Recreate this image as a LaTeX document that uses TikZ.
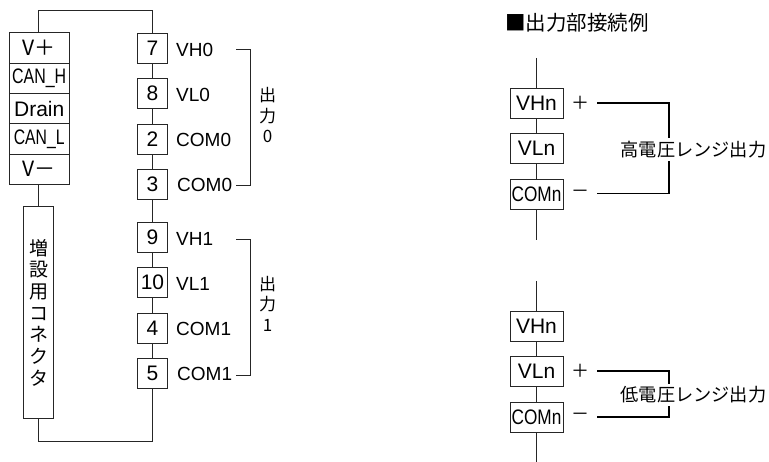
\documentclass[tikz,border=0pt]{standalone}
\usepackage{fontspec}
\usepackage{graphicx}
\setmainfont{Liberation Sans}
\newfontfamily\cjk{Noto Sans CJK JP}
\newcommand{\fs}[1]{\fontsize{#1}{#1}\selectfont}
\newcommand{\nar}[2]{\scalebox{#1}[1]{#2}}
\tikzset{
  wire/.style={draw=black!85,line width=0.9pt},
  thick wire/.style={draw=black,line width=1.2pt},
  cell/.style={draw=black!85,line width=0.9pt,fill=white,inner sep=0pt,minimum width=60.5pt,minimum height=30.3pt,font=\fs{21}},
  term/.style={draw=black!85,line width=0.9pt,fill=white,inner sep=0pt,minimum width=30pt,minimum height=30pt,font=\fs{21}},
  rbox/.style={draw=black!85,line width=0.9pt,fill=white,inner sep=0pt,minimum width=53pt,minimum height=30pt,font=\fs{21}},
  pin/.style={anchor=west,inner sep=0pt,font=\fs{19}},
  stack/.style={align=center,inner sep=0pt,font=\cjk\fontsize{17}{20.5}\selectfont},
  sign/.style={inner sep=0pt,font=\cjk\fs{18}},
  jp/.style={inner xsep=0pt,inner ysep=2.5pt,font=\cjk\fs{18.2},fill=white}
}
\begin{document}
\begin{tikzpicture}[x=1pt,y=-1pt]
\useasboundingbox (0,0) rectangle (769,462);
% connector block
\node[cell] (vp) at (39.2,48) {\cjk V＋};
\node[cell] (canh) at (39.2,78.3) {\nar{0.76}{CAN\_H}};
\node[cell] (drain) at (39.2,108.6) {Drain};
\node[cell] (canl) at (39.2,138.9) {\nar{0.75}{CAN\_L}};
\node[cell] (vm) at (39.2,169.2) {\cjk V－};
\node[draw=black!85,line width=0.9pt,fill=white,inner sep=0pt,minimum width=30pt,minimum height=211.5pt,align=center,font=\cjk\fontsize{19}{21.7}\selectfont] (ext) at (38.5,312.7)
  {増\\設\\用\\コ\\ネ\\ク\\タ};
% terminals
\node[term] (t7) at (152.5,48) {7};
\node[term] (t8) at (152.5,93.5) {8};
\node[term] (t2) at (152.5,139) {2};
\node[term] (t3) at (152.5,184) {3};
\node[term] (t9) at (152.5,237) {9};
\node[term] (t10) at (152.5,282.5) {10};
\node[term] (t4) at (152.5,328) {4};
\node[term] (t5) at (152.5,373) {5};
% pin labels
\node[pin] (l7) at (176,50) {VH0};
\node[pin] (l8) at (176,95) {VL0};
\node[pin] (l2) at (176,140) {COM0};
\node[pin] (l3) at (177,185) {COM0};
\node[pin] (l9) at (176,239) {VH1};
\node[pin] (l10) at (176,284) {VL1};
\node[pin] (l4) at (176,329) {COM1};
\node[pin] (l5) at (177,374) {COM1};
% wires
\coordinate (ta) at (38.5,10.5);
\coordinate (tb) at (152.5,10.5);
\coordinate (ba) at (38.5,441.5);
\coordinate (bb) at (152.5,441.5);
\draw[wire] (ta |- vp.north) -- (ta) -- (tb) -- (t7.north);
\draw[wire] (t7) -- (t8);
\draw[wire] (t8) -- (t2);
\draw[wire] (t2) -- (t3);
\draw[wire] (t3) -- (t9);
\draw[wire] (t9) -- (t10);
\draw[wire] (t10) -- (t4);
\draw[wire] (t4) -- (t5);
\draw[wire] (vm.south -| ext) -- (ext.north);
\draw[wire] (ext.south) -- (ba) -- (bb) -- (t5.south);
% brackets
\coordinate (b0a) at (236,49.5);
\coordinate (b0b) at (250,49.5);
\coordinate (b0c) at (250,185.5);
\coordinate (b0d) at (236,185.5);
\coordinate (b1a) at (236,239);
\coordinate (b1b) at (250,239);
\coordinate (b1c) at (250,375);
\coordinate (b1d) at (236,375);
\draw[wire] (b0a) -- (b0b) -- (b0c) -- (b0d);
\draw[wire] (b1a) -- (b1b) -- (b1c) -- (b1d);
\node[stack] (o0) at (267.5,115.5) {出\\力\\0};
\node[stack] (o1) at (267.5,303.5) {出\\力\\1};
% title
\node[anchor=west,inner sep=0pt,font=\cjk\fs{20.5}] (title) at (505,22.5) {■出力部接続例};
% high range
\coordinate (h0) at (536,58);
\coordinate (h1) at (536,240);
\draw[wire] (h0) -- (h1);
\node[rbox] (hv) at (536.5,103) {VHn};
\node[rbox] (hl) at (536.5,148.5) {VLn};
\node[rbox] (hc) at (536.5,194) {\nar{0.82}{COMn}};
\node[sign] (hp) at (580,103) {＋};
\node[sign] (hm) at (580,193.5) {－};
\coordinate (hp1) at (597,103);
\coordinate (hp2) at (669,103);
\coordinate (hm1) at (597,193.5);
\coordinate (hm2) at (669,193.5);
\node[jp] (hlab) at (693.5,149.5) {高電圧レンジ出力};
\draw[thick wire] (hp1) -- (hp2) -- (hlab.north -| hp2);
\draw[thick wire] (hm1) -- (hm2) -- (hlab.south -| hm2);
% low range
\coordinate (k0) at (536,281);
\coordinate (k1) at (536,462);
\draw[wire] (k0) -- (k1);
\node[rbox] (kv) at (536.5,326) {VHn};
\node[rbox] (kl) at (536.5,371.5) {VLn};
\node[rbox] (kc) at (536.5,417) {\nar{0.82}{COMn}};
\node[sign] (kp) at (580,371) {＋};
\node[sign] (km) at (580,417) {－};
\coordinate (kp1) at (597,371);
\coordinate (kp2) at (669,371);
\coordinate (km1) at (597,417);
\coordinate (km2) at (669,417);
\node[jp] (klab) at (693.5,395) {低電圧レンジ出力};
\draw[thick wire] (kp1) -- (kp2) -- (klab.north -| kp2);
\draw[thick wire] (km1) -- (km2) -- (klab.south -| km2);
\end{tikzpicture}
\end{document}
